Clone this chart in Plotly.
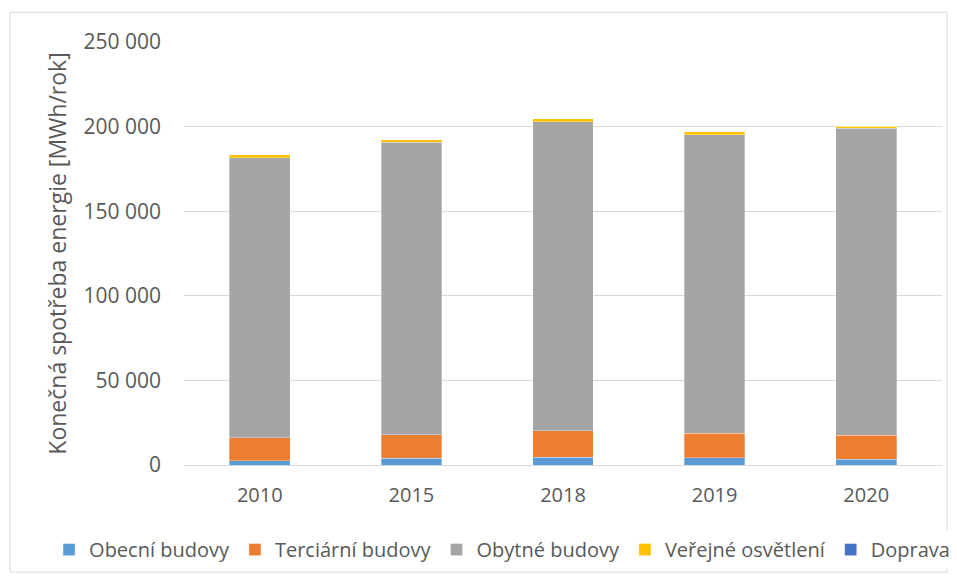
import plotly.graph_objects as go

years = ["2010", "2015", "2018", "2019", "2020"]
obecni = [2600, 4100, 4500, 4300, 3400]
terciarni = [13400, 13700, 15600, 14500, 14200]
obytne = [165700, 173000, 182900, 176500, 181400]
verejne = [1700, 1300, 1500, 1600, 1100]
doprava = [0, 0, 0, 0, 0]

series = [
    ("Obecní budovy", obecni, "#5b9bd5"),
    ("Terciární budovy", terciarni, "#ed7d31"),
    ("Obytné budovy", obytne, "#a5a5a5"),
    ("Veřejné osvětlení", verejne, "#ffc000"),
    ("Doprava", doprava, "#4472c4"),
]

fig = go.Figure()
for name, vals, col in series:
    fig.add_trace(go.Bar(
        x=years, y=vals, name=name,
        marker=dict(color=col, line=dict(color="rgba(255,255,255,0.6)", width=0.5)),
    ))

font_family = "Open Sans, Liberation Sans, sans-serif"
# page body has an 8px default margin, so the figure is sized to fill the rest
fig.update_layout(
    barmode="stack",
    bargap=0.6,
    width=949, height=573,
    margin=dict(l=176, r=15, t=34, b=116, autoexpand=False),
    paper_bgcolor="white", plot_bgcolor="white",
    separators=", ",
    font=dict(family=font_family, color="#595959", size=20),
    xaxis=dict(
        type="category", showgrid=False, showline=True, linecolor="#d9d9d9", linewidth=1,
        ticks="", tickfont=dict(size=20, color="#595959"), automargin=False,
        ticklabelstandoff=12,
    ),
    yaxis=dict(
        range=[0, 250000], dtick=50000, tickformat=",d", showgrid=True,
        gridcolor="#d9d9d9", gridwidth=1, zeroline=False, showline=False,
        ticks="", ticklabelstandoff=22, tickfont=dict(size=21, color="#595959"),
        automargin=False,
        title=dict(text="Konečná spotřeba energie [MWh/rok]", font=dict(size=23, color="#595959"), standoff=10),
    ),
    legend=dict(
        orientation="h", x=-0.178, xanchor="left", y=-0.2, yanchor="middle",
        font=dict(size=20, color="#595959"), traceorder="normal",
        itemwidth=30, tracegroupgap=0,
    ),
    shapes=[dict(
        type="rect", xref="paper", yref="paper",
        x0=-0.2296, x1=1.0066, y0=-0.2533, y1=1.0705,
        line=dict(color="#d9d9d9", width=1), fillcolor="rgba(0,0,0,0)", layer="below",
    )],
)

fig.write_html("out.html")
